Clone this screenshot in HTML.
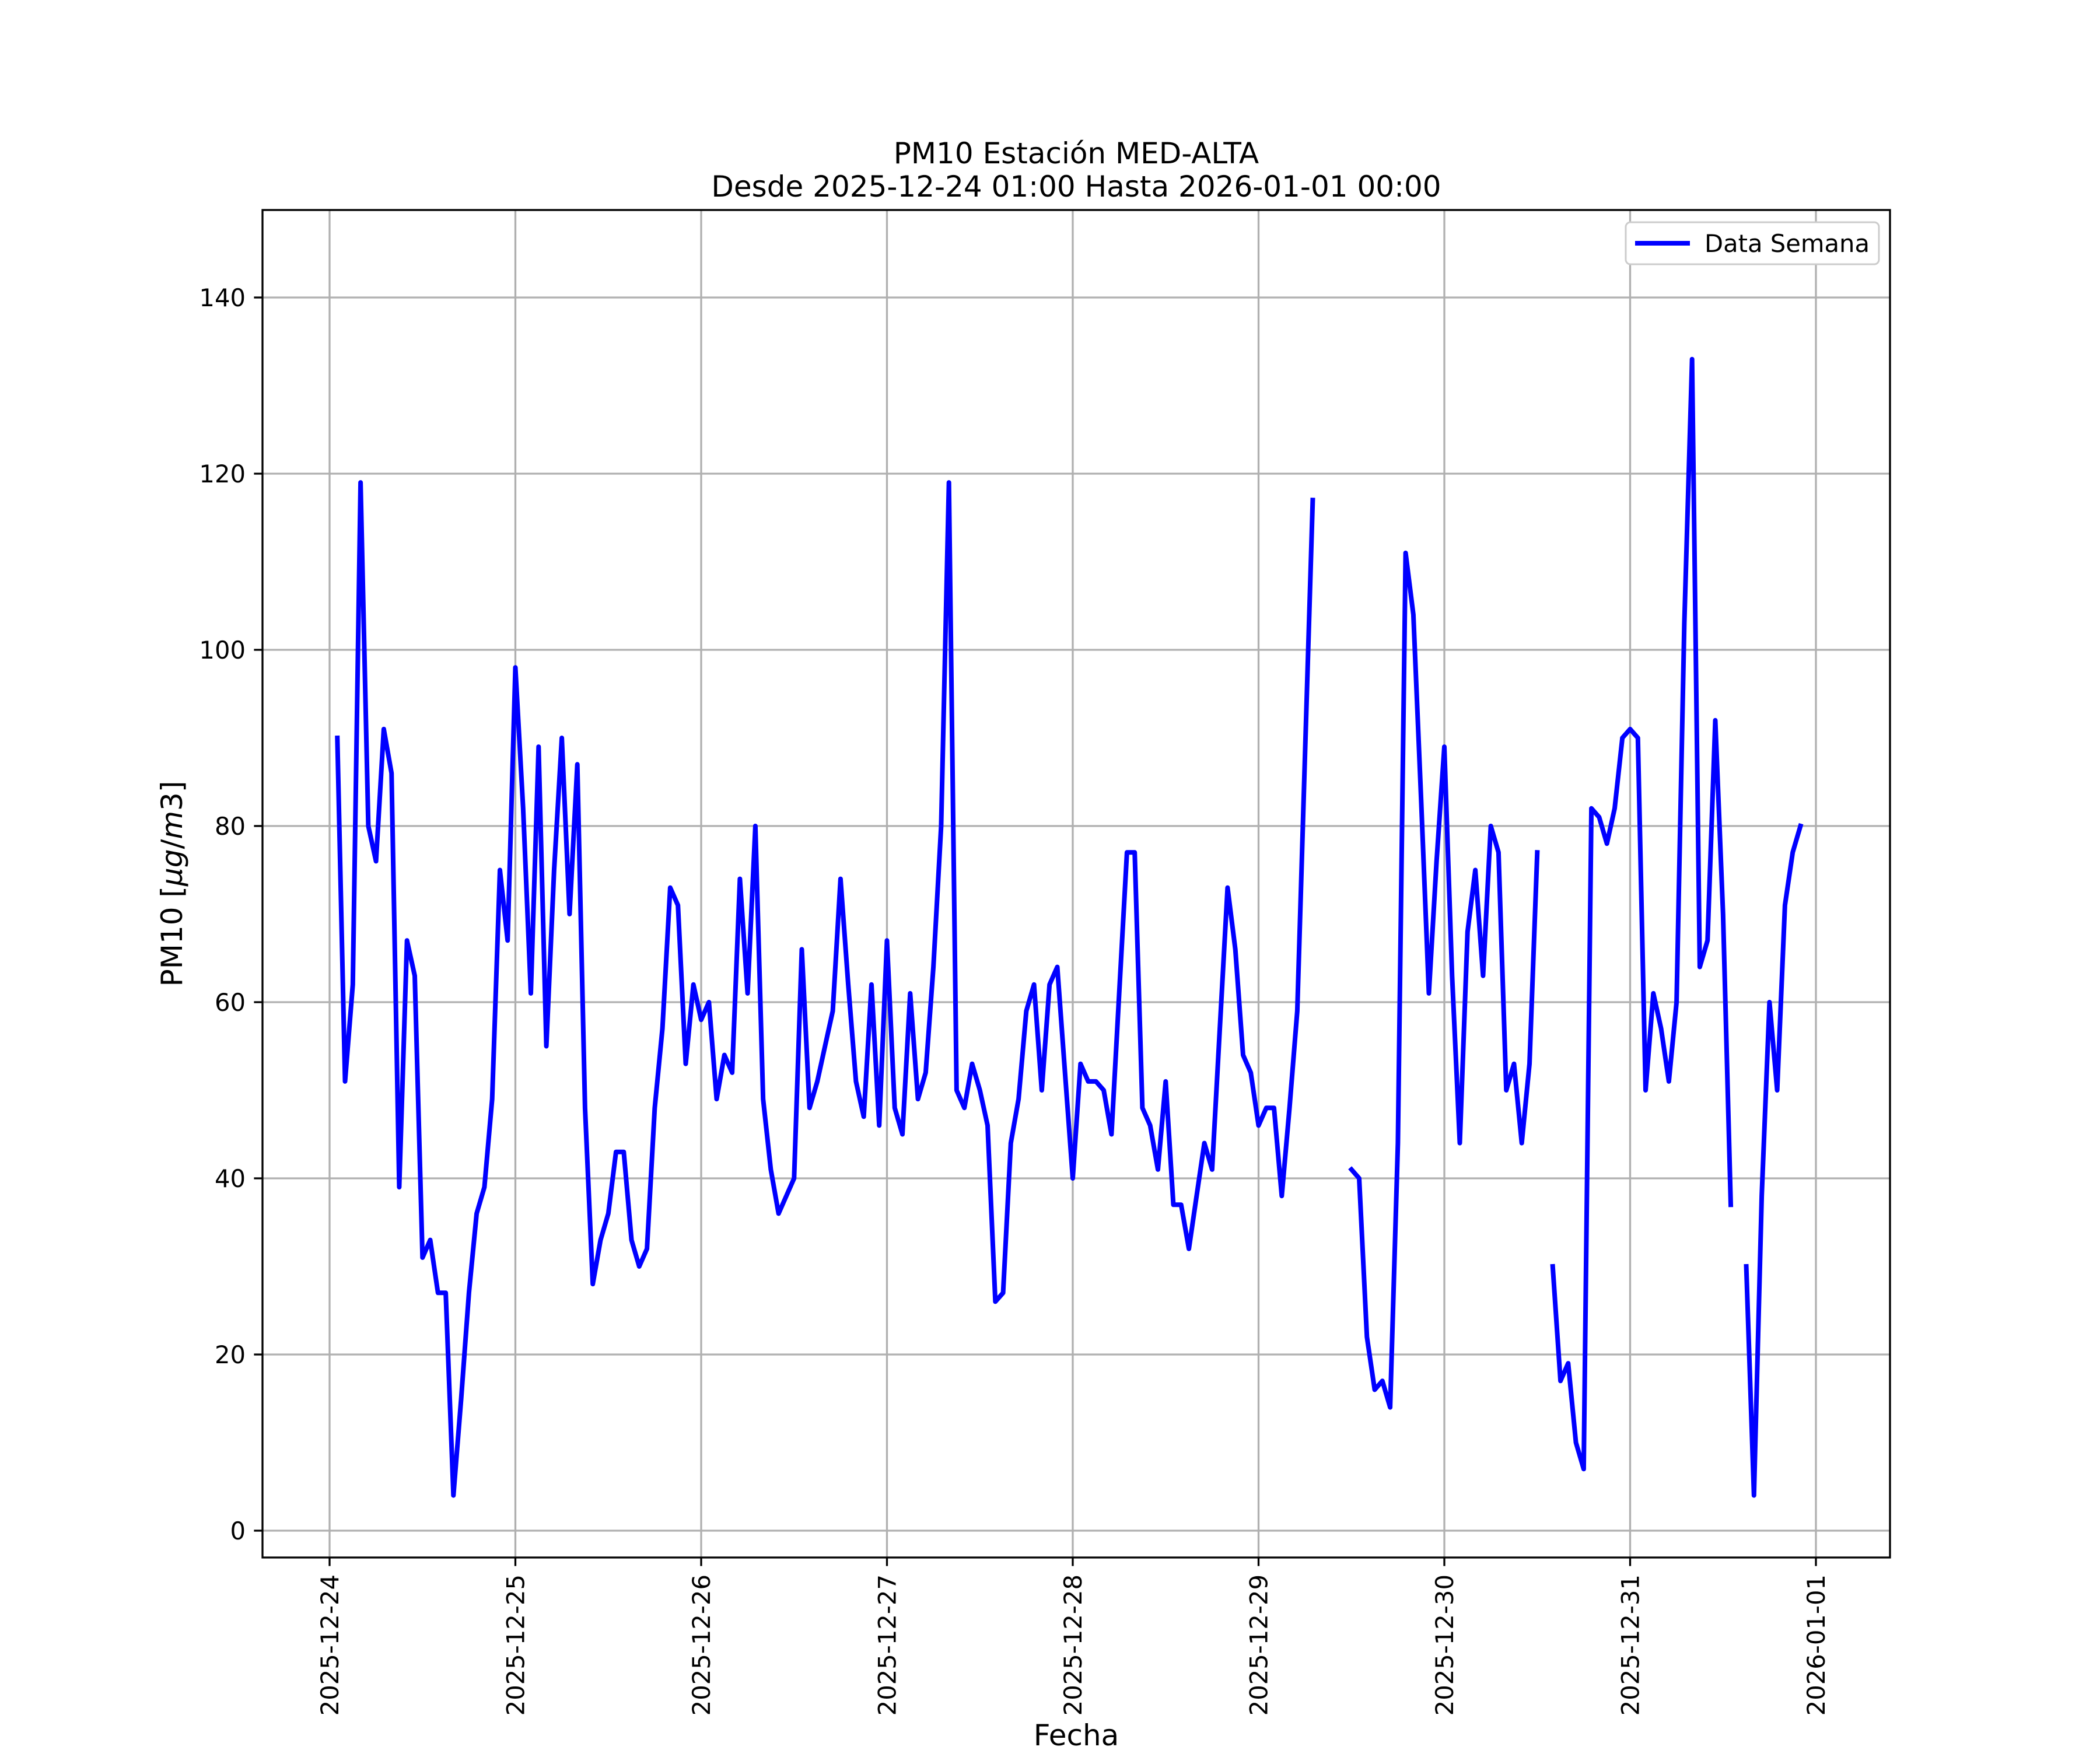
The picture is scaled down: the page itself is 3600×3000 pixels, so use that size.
<!DOCTYPE html>
<html><head><meta charset="utf-8"><style>html,body{margin:0;padding:0;background:#fff}svg{display:block}</style></head>
<body>
<svg id="chart" width="3600" height="3000" xmlns="http://www.w3.org/2000/svg" font-family="DejaVu Sans, Liberation Sans, sans-serif"></svg>
<script>
const tickLabels = ["2025-12-24","2025-12-25","2025-12-26","2025-12-27","2025-12-28","2025-12-29","2025-12-30","2025-12-31","2026-01-01"];
const yTicks = [0,20,40,60,80,100,120,140];
const startHour = 1;
const values = [90,51,62,119,80,76,91,86,39,67,63,31,33,27,27,4,15,27,36,39,49,75,67,98,
82,61,89,55,75,90,70,87,48,28,33,36,43,43,33,30,32,48,57,73,71,53,62,58,
60,49,54,52,74,61,80,49,41,36,38,40,66,48,51,55,59,74,62,51,47,62,46,67,
48,45,61,49,52,64,80,119,50,48,53,50,46,26,27,44,49,59,62,50,62,64,52,40,
53,51,51,50,45,61,77,77,48,46,41,51,37,37,32,38,44,41,57,73,66,54,52,46,
48,48,38,48,59,88,117,null,null,null,null,41,40,22,16,17,14,44,111,104,83,61,76,89,
63,44,68,75,63,80,77,50,53,44,53,77,null,30,17,19,10,7,82,81,78,82,90,91,
90,50,61,57,51,60,103,133,64,67,92,70,37,null,30,4,38,60,50,71,77,80];

const NS="http://www.w3.org/2000/svg";
const svg=document.getElementById('chart');
const L=450,R=3240,T=360,B=2670;
const X0=565, DAY=318.5, Y0=2624, PU=15.1;
function xs(h){return X0+h/24*DAY;}
function ys(v){return Y0-v*PU;}
function mk(tag,attrs,parent){const e=document.createElementNS(NS,tag);for(const k in attrs)e.setAttribute(k,attrs[k]);(parent||svg).appendChild(e);return e;}

let t=mk('text',{x:1845,y:280,'font-size':50,'text-anchor':'middle'});t.textContent='PM10 Estación MED-ALTA';


t=mk('text',{x:1845,y:337,'font-size':50,'text-anchor':'middle'});t.textContent='Desde 2025-12-24 01:00 Hasta 2026-01-01 00:00';



const grid=mk('g',{stroke:'#b0b0b0','stroke-width':3.3});


tickLabels.forEach((lab,i)=>{const x=xs(i*24);mk('line',{x1:x,x2:x,y1:T,y2:B},grid);});
yTicks.forEach(v=>{const y=ys(v);mk('line',{x1:L,x2:R,y1:y,y2:y},grid);});

let d='',pen=false;
values.forEach((v,i)=>{if(v===null){pen=false;return;}const h=startHour+i;d+=(pen?'L':'M')+xs(h).toFixed(1)+','+ys(v).toFixed(1);pen=true;});
const line=mk('path',{d:d,fill:'none',stroke:'#0000ff','stroke-width':8,'stroke-linejoin':'round','stroke-linecap':'square'});



const box=mk('rect',{x:L,y:T,width:R-L,height:B-T,fill:'none',stroke:'#000','stroke-width':3.3});



tickLabels.forEach((lab,i)=>{const x=xs(i*24);
 mk('line',{x1:x,x2:x,y1:B,y2:B+14.6,stroke:'#000','stroke-width':3.3});
 const tx=mk('text',{x:0,y:0,'font-size':41.7,'text-anchor':'end',transform:`translate(${x+15},${B+29}) rotate(-90)`});
 tx.textContent=lab;
 
 
});
yTicks.forEach(v=>{const y=ys(v);
 mk('line',{x1:L-14.6,x2:L,y1:y,y2:y,stroke:'#000','stroke-width':3.3});
 const tx=mk('text',{x:L-29,y:y+15,'font-size':41.7,'text-anchor':'end'});
 tx.textContent=v;
 
 
});
t=mk('text',{x:1845,y:2992,'font-size':50,'text-anchor':'middle'});t.textContent='Fecha';


t=mk('text',{x:0,y:0,'font-size':50,'text-anchor':'middle',transform:'translate(312,1515) rotate(-90)'});
t.innerHTML='PM10 [<tspan font-style="italic">μg</tspan>/<tspan font-style="italic">m</tspan>3]';



const lg=mk('g',{});


mk('rect',{x:2787,y:381,width:434,height:72,rx:8,fill:'#fff',stroke:'#cccccc','stroke-width':3},lg);
mk('line',{x1:2803,x2:2897,y1:417,y2:417,stroke:'#0000ff','stroke-width':8},lg);
t=mk('text',{x:2922,y:432,'font-size':41.7},lg);t.textContent='Data Semana';


</script>
</body></html>
